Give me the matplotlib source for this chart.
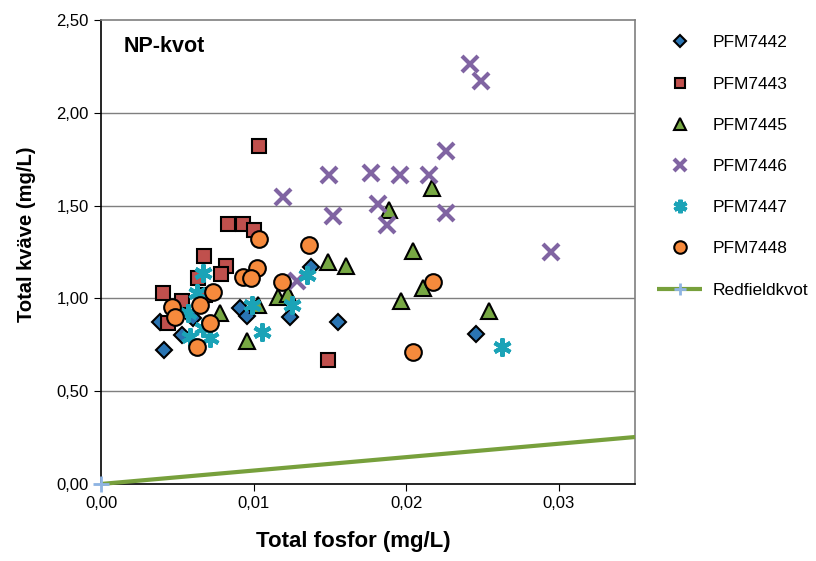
import numpy as np
import matplotlib.pyplot as plt
from matplotlib.ticker import FuncFormatter

# total phosphorus (x) and total nitrogen (y), mg/L, per station
pfm7442_p = [0.00413, 0.00387, 0.00531, 0.00603, 0.00911, 0.00957, 0.01239, 0.01376, 0.01553, 0.02457]
pfm7442_n = [0.722, 0.873, 0.803, 0.894, 0.948, 0.905, 0.900, 1.169, 0.873, 0.808]

pfm7443_p = [0.00406, 0.00675, 0.00832, 0.00931, 0.01003, 0.00819, 0.00786, 0.00636, 0.00531,
             0.00439, 0.00682, 0.01035, 0.01488]
pfm7443_n = [1.029, 1.228, 1.401, 1.401, 1.369, 1.175, 1.131, 1.110, 0.986,
             0.867, 1.018, 1.821, 0.668]

pfm7445_p = [0.00957, 0.0078, 0.01029, 0.0116, 0.01225, 0.01488, 0.01605, 0.02045, 0.0211,
             0.01966, 0.02543, 0.02169, 0.01887]
pfm7445_n = [0.770, 0.921, 0.964, 1.008, 1.024, 1.196, 1.175, 1.255, 1.056,
             0.986, 0.932, 1.595, 1.476]

pfm7446_p = [0.02418, 0.0249, 0.02261, 0.01193, 0.01494, 0.01769, 0.01959, 0.02149, 0.0152,
             0.01815, 0.01874, 0.02261, 0.02949, 0.01284]
pfm7446_n = [2.263, 2.171, 1.794, 1.546, 1.665, 1.676, 1.665, 1.665, 1.444,
             1.509, 1.395, 1.460, 1.250, 1.094]

pfm7447_p = [0.00668, 0.00629, 0.0057, 0.00583, 0.00714, 0.00668, 0.0099, 0.01055, 0.01252,
             0.0135, 0.02628]
pfm7447_n = [1.137, 1.029, 0.921, 0.792, 0.787, 0.841, 0.964, 0.819, 0.964,
             1.126, 0.738]

pfm7448_p = [0.01035, 0.01363, 0.01022, 0.00931, 0.00983, 0.01186, 0.00734, 0.00649, 0.00465,
             0.00485, 0.00714, 0.00629, 0.02176, 0.02045]
pfm7448_n = [1.320, 1.288, 1.164, 1.115, 1.110, 1.088, 1.034, 0.964, 0.954,
             0.900, 0.867, 0.738, 1.088, 0.711]

# Redfield ratio line (N:P by mass ~7.2)
redfield_p = [0.0, 0.035]
redfield_n = [0.0, 0.253]


def comma(v, pos, nd):
    return f"{v:.{nd}f}".replace('.', ',')


def main():
    plt.rcParams['font.family'] = ['Liberation Sans', 'DejaVu Sans']
    fig = plt.figure(figsize=(8.16, 5.61), dpi=100)
    ax = fig.add_axes([0.1238, 0.1373, 0.6544, 0.827])

    for y in [0.5, 1.0, 1.5, 2.0]:
        ax.axhline(y, color='#7f7f7f', lw=1.0, zorder=0)

    ax.plot(redfield_p, redfield_n, color='#77A03C', lw=3, marker='+', ms=11,
            mec='#8EB4E3', mew=2, markevery=[0], label='Redfieldkvot', zorder=4,
            clip_on=False, solid_capstyle='butt')

    ax.plot(pfm7442_p, pfm7442_n, ls='none', marker='D', ms=8.5, mfc='#2A75B3', mec='black',
            mew=1.5, label='PFM7442', zorder=3)
    ax.plot(pfm7443_p, pfm7443_n, ls='none', marker='s', ms=9.5, mfc='#C0504D', mec='black',
            mew=1.5, label='PFM7443', zorder=3)
    ax.plot(pfm7445_p, pfm7445_n, ls='none', marker='^', ms=11, mfc='#77A843', mec='black',
            mew=1.5, label='PFM7445', zorder=3)
    ax.plot(pfm7446_p, pfm7446_n, ls='none', marker='x', ms=11, mec='#8064A2',
            mew=3, label='PFM7446', zorder=3)
    ax.plot(pfm7447_p, pfm7447_n, ls='none', marker=(6, 2, 0), ms=13, mec='#1BA3B7',
            mew=3, label='PFM7447', zorder=3)
    ax.plot(pfm7448_p, pfm7448_n, ls='none', marker='o', ms=12, mfc='#F68A3C', mec='black',
            mew=1.5, label='PFM7448', zorder=3)

    ax.set_xlim(0, 0.035)
    ax.set_ylim(0, 2.5)
    ax.set_xticks([0, 0.01, 0.02, 0.03])
    ax.set_yticks([0, 0.5, 1.0, 1.5, 2.0, 2.5])
    ax.xaxis.set_major_formatter(FuncFormatter(lambda v, p: comma(v, p, 2)))
    ax.yaxis.set_major_formatter(FuncFormatter(lambda v, p: comma(v, p, 2)))
    ax.tick_params(labelsize=12, length=5, direction='out', color='black', pad=4)

    ax.spines['top'].set_color('#7f7f7f')
    ax.spines['right'].set_color('#7f7f7f')
    ax.spines['left'].set_color('black')
    ax.spines['bottom'].set_color('black')
    for s in ax.spines.values():
        s.set_linewidth(1.2)

    ax.set_xlabel('Total fosfor (mg/L)', fontsize=16, fontweight='bold')
    ax.set_ylabel('Total kväve (mg/L)', fontsize=14.5, fontweight='bold')
    ax.xaxis.set_label_coords(0.472, -0.102)
    ax.yaxis.set_label_coords(-0.122, 0.539)
    ax.text(0.043, 0.942, 'NP-kvot', transform=ax.transAxes, fontsize=15.5,
            fontweight='bold', va='center', ha='left')

    handles, labels = ax.get_legend_handles_labels()
    order = [1, 2, 3, 4, 5, 6, 0]
    fig.legend([handles[i] for i in order], [labels[i] for i in order],
               loc='upper left', bbox_to_anchor=(0.786, 0.965), frameon=False,
               fontsize=12.5, labelspacing=1.5, markerscale=0.75, handlelength=2.6,
               handletextpad=0.6)

    fig.savefig('out.png', dpi=100)


if __name__ == "__main__":
    main()
